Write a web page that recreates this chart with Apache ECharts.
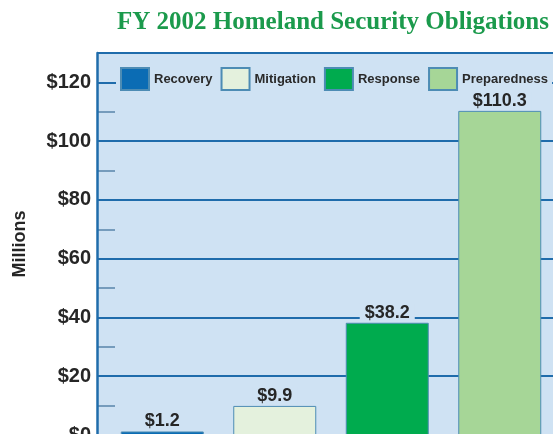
<!DOCTYPE html>
<html>
<head>
<meta charset="utf-8">
<script src="https://cdn.jsdelivr.net/npm/echarts@6/dist/echarts.min.js"></script>
<style>html,body{margin:0;padding:0;background:#fff}#c{width:553px;height:434px}</style>
</head>
<body>
<div id="c"></div>
<script>
var titleText = 'FY 2002 Homeland Security Obligations';
var categories = ['Recovery', 'Mitigation', 'Response', 'Preparedness'];
var values = [1.2, 9.9, 38.2, 110.3];
var barColors = ['#0b6cb4', '#e4f1dd', '#00ab4e', '#a6d697'];
var yAxisName = 'Millions';

var plotBg = '#cfe2f3';
var gridColor = '#1f6cab';
var chart = echarts.init(document.getElementById('c'), null, {renderer: 'canvas'});

var series = categories.map(function (name, i) {
  var d = categories.map(function (c, j) { return j === i ? values[i] : '-'; });
  return {
    name: name, type: 'bar', stack: 'all', xAxisIndex: 1, yAxisIndex: 2,
    barWidth: 83, z: 5,
    itemStyle: {color: barColors[i], borderColor: '#4d8cb4', borderWidth: 1},
    label: {
      show: true, position: 'top', distance: 1,
      formatter: function (p) { return '$' + p.value; },
      fontFamily: 'Liberation Sans', fontWeight: 'bold', fontSize: 18, lineHeight: 18, color: '#262626',
      backgroundColor: plotBg, padding: [0, 5]
    },
    data: d
  };
});

chart.setOption({
  animation: false,
  backgroundColor: '#ffffff',
  title: {
    text: titleText, left: 117, top: 10, padding: 0,
    textStyle: {fontFamily: 'Liberation Serif', fontWeight: 'bold', fontSize: 25, color: '#1b9a4c'}
  },
  legend: {
    data: categories, left: 116, top: 64, padding: [3, 4, 1, 4], itemGap: 8,
    itemWidth: 28, itemHeight: 22, icon: 'rect', z: 4,
    backgroundColor: plotBg,
    textStyle: {fontFamily: 'Liberation Sans', fontWeight: 'bold', fontSize: 13, color: '#2a2a2a'}
  },
  grid: [
    {left: 97, right: -20, top: 53, bottom: -1, show: true, backgroundColor: plotBg, borderWidth: 0, z: 0,
     outerBoundsMode: 'none', containLabel: false},
    {left: 106, right: -3, top: 53, bottom: -1, outerBoundsMode: 'none', containLabel: false}
  ],
  xAxis: [
    {type: 'value', gridIndex: 0, show: false, min: 0, max: 1},
    {type: 'category', gridIndex: 1, data: categories, show: false}
  ],
  yAxis: [
    {
      type: 'value', gridIndex: 0, position: 'left', min: 0, max: 130, interval: 20, z: 2,
      name: yAxisName, nameLocation: 'middle', nameRotate: 90, nameGap: 68,
      nameTextStyle: {fontFamily: 'Liberation Sans', fontWeight: 'bold', fontSize: 18, color: '#262626'},
      axisLine: {show: true, lineStyle: {color: gridColor, width: 2.5}},
      axisTick: {show: true, inside: true, length: 18, lineStyle: {color: gridColor, width: 2}},
      axisLabel: {
        margin: 6, fontFamily: 'Liberation Sans', fontWeight: 'bold', fontSize: 20, color: '#262626',
        formatter: function (v) { return v > 120 ? '' : '$' + v; }
      },
      splitLine: {show: true, lineStyle: {color: gridColor, width: 2}}
    },
    {
      type: 'value', gridIndex: 0, position: 'left', offset: 0, min: 0, max: 130, interval: 10, z: 1,
      axisLine: {show: false, onZero: false},
      axisTick: {show: true, inside: true, length: 18, lineStyle: {color: '#5a85aa', width: 1.5}},
      axisLabel: {show: false},
      splitLine: {show: false}
    },
    {type: 'value', gridIndex: 1, min: 0, max: 130, show: false, splitLine: {show: false}}
  ],
  series: series
});
</script>
</body>
</html>
